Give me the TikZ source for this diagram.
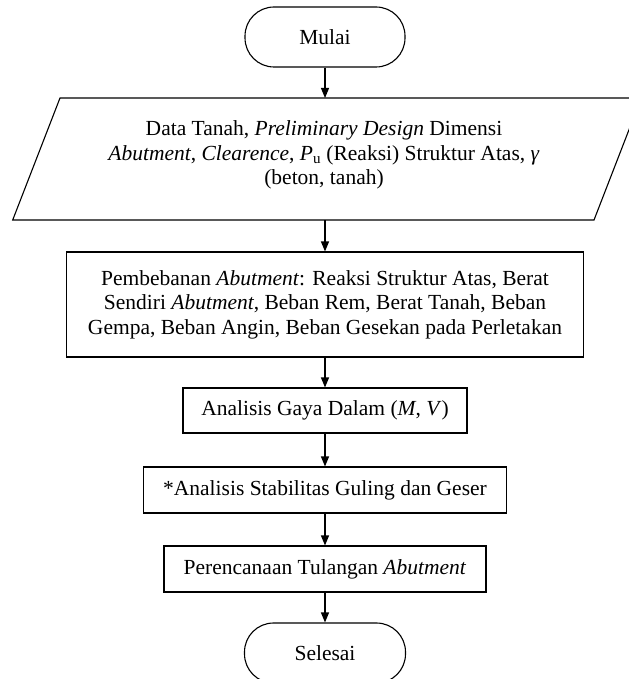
\documentclass[tikz,border=0pt]{standalone}
\usepackage{fontspec}
\setmainfont{Liberation Serif}
\usetikzlibrary{arrows.meta}
\begin{document}
\begin{tikzpicture}[x=1bp,y=-1bp,
  every node/.style={font=\fontsize{21.5bp}{24.5bp}\selectfont},
  outline/.style={draw=black, line width=1.1bp},
  terminal/.style={outline, rounded corners=29bp, minimum width=160bp, minimum height=60bp, inner sep=0pt},
  process/.style={outline, align=center, inner sep=0pt},
  flow/.style={line width=1.1bp, -{Triangle[length=10bp,width=8bp]}}]
\clip (0,0) rectangle (629,679);

% start terminal
\node[terminal] (mulai) at (325,37) {Mulai};

% input/output parallelogram (runs past the right edge)
\coordinate (ioNW) at (60,98);
\coordinate (ioNE) at (641.3,98);
\coordinate (ioSE) at (594,220);
\coordinate (ioSW) at (12.7,220);
\coordinate (ioIn) at (325,98);
\coordinate (ioOut) at (325,220);
\draw[outline] (ioNW) -- (ioNE) -- (ioSE) -- (ioSW) -- cycle;
\node[align=center] (data) at (324,155)
  {Data Tanah, \textit{Preliminary Design} Dimensi\\
   \textit{Abutment}, \textit{Clearence}, \textit{P}\textsubscript{u} (Reaksi) Struktur Atas, \textit{γ}\\
   (beton, tanah)};

% process steps
\node[process, minimum width=517bp, minimum height=105bp] (beban) at (325,304.5)
  {Pembebanan \textit{Abutment}: Reaksi Struktur Atas, Berat\\
   Sendiri \textit{Abutment}, Beban Rem, Berat Tanah, Beban\\
   Gempa, Beban Angin, Beban Gesekan pada Perletakan};
\node[process, minimum width=284bp, minimum height=45bp] (gaya) at (325,410.5)
  {Analisis Gaya Dalam (\textit{M}, \textit{V})};
\node[process, minimum width=363bp, minimum height=46bp] (stab) at (325,490)
  {*Analisis Stabilitas Guling dan Geser};
\node[process, minimum width=322bp, minimum height=46bp] (tul) at (325,569)
  {Perencanaan Tulangan \textit{Abutment}};

% end terminal
\node[terminal, minimum width=161bp] (selesai) at (325,653) {Selesai};

% connectors
\draw[flow] (mulai.south) -- (ioIn);
\draw[flow] (ioOut) -- (beban.north);
\draw[flow] (beban.south) -- (gaya.north);
\draw[flow] (gaya.south) -- (stab.north);
\draw[flow] (stab.south) -- (tul.north);
\draw[flow] (tul.south) -- (selesai.north);
\end{tikzpicture}
\end{document}
